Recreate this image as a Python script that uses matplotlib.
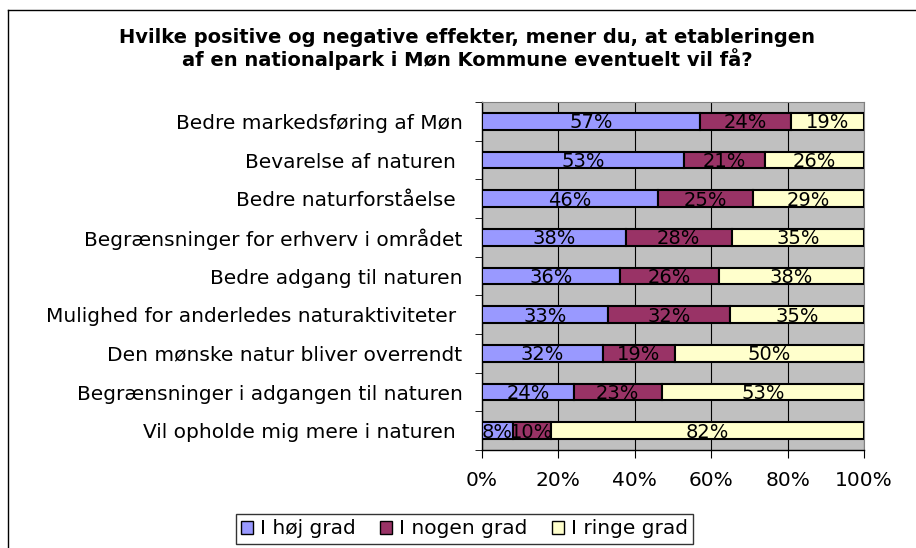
import numpy as np
import matplotlib.pyplot as plt
from matplotlib.patches import Patch
from matplotlib.lines import Line2D

# survey answers, top row first
categories = [
    'Bedre markedsføring af Møn',
    'Bevarelse af naturen ',
    'Bedre naturforståelse ',
    'Begrænsninger for erhverv i området',
    'Bedre adgang til naturen',
    'Mulighed for anderledes naturaktiviteter ',
    'Den mønske natur bliver overrendt',
    'Begrænsninger i adgangen til naturen',
    'Vil opholde mig mere i naturen ',
]
hoej = [57, 53, 46, 38, 36, 33, 32, 24, 8]
nogen = [24, 21, 25, 28, 26, 32, 19, 23, 10]
ringe = [19, 26, 29, 35, 38, 35, 50, 53, 82]
series_names = ['I høj grad', 'I nogen grad', 'I ringe grad']
xticks = [0, 20, 40, 60, 80, 100]

colors = ['#9999FF', '#993366', '#FFFFCC']
label_size = 14.5
bar_label_size = 14

fig = plt.figure(figsize=(9.16, 5.48), dpi=100)
ax = fig.add_axes([482 / 916, 1 - 450 / 548, 382 / 916, 348 / 548])
ax.set_facecolor('#C0C0C0')

vals = np.array([hoej, nogen, ringe], dtype=float)
shares = vals / vals.sum(axis=0) * 100
y = np.arange(len(categories))
left = np.zeros(len(categories))
for k in range(3):
    ax.barh(y, shares[k], left=left, height=0.43, color=colors[k],
            edgecolor='black', linewidth=1.5, zorder=3)
    for i in range(len(categories)):
        ax.text(left[i] + shares[k][i] / 2, y[i] + 0.04, '%d%%' % vals[k][i],
                ha='center', va='center', fontsize=bar_label_size, zorder=4)
    left += shares[k]

ax.set_xlim(0, 100)
ax.set_ylim(len(categories) - 0.5, -0.5)
ax.set_xticks(xticks)
ax.set_xticklabels(['%d%%' % t for t in xticks], fontsize=label_size)
ax.set_yticks(y)
ax.set_yticklabels(categories, fontsize=label_size)
ax.set_yticks(np.arange(-0.5, len(categories), 1), minor=True)
ax.tick_params(axis='y', which='major', length=0, pad=14)
ax.tick_params(axis='y', which='minor', length=5, direction='out')
ax.tick_params(axis='x', length=6, direction='out', pad=9)
ax.grid(axis='x', color='black', linewidth=0.8, zorder=1)

for s in ['top', 'right']:
    ax.spines[s].set_color('#808080')
    ax.spines[s].set_linewidth(0.8)
for s in ['left', 'bottom']:
    ax.spines[s].set_color('black')
    ax.spines[s].set_linewidth(1)

fig.text(0.51, 1 - 49 / 548,
         'Hvilke positive og negative effekter, mener du, at etableringen\n'
         'af en nationalpark i Møn Kommune eventuelt vil få?',
         ha='center', va='center', fontsize=14, fontweight='bold',
         linespacing=1.05)

handles = [Patch(facecolor=c, edgecolor='black', linewidth=1) for c in colors]
fig.legend(handles, series_names, loc='center', ncol=3,
           bbox_to_anchor=(0.507, 1 - 529 / 548), fontsize=label_size,
           frameon=True, fancybox=False, edgecolor='black',
           handlelength=0.6, handleheight=0.6, handletextpad=0.35,
           columnspacing=1.2, borderpad=0.25, borderaxespad=0.3)

# outer chart frame (top and left edges visible)
fig.add_artist(Line2D([8 / 916, 1], [1 - 10 / 548, 1 - 10 / 548],
                      transform=fig.transFigure, color='black', linewidth=1))
fig.add_artist(Line2D([8 / 916, 8 / 916], [0, 1 - 10 / 548],
                      transform=fig.transFigure, color='black', linewidth=1))

plt.savefig('out.png')
